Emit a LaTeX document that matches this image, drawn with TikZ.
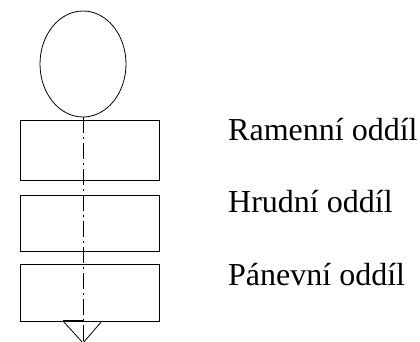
\documentclass[tikz,border=0pt]{standalone}
\usepackage{fontspec}
\setmainfont{Liberation Serif}
\usetikzlibrary{shapes.geometric}
\begin{document}
\begin{tikzpicture}[x=1pt,y=-1pt,
  part/.style={draw,line width=0.8pt,inner sep=0pt},
  segment/.style={part,rectangle,minimum width=139pt},
  label/.style={anchor=base west,inner sep=0pt,font=\fontsize{32}{34}\selectfont},
  axis/.style={line width=0.7pt,dash pattern=on 16pt off 4pt on 2pt off 4pt}]
\useasboundingbox (0,0) rectangle (420,342);
% head
\node[part,ellipse,minimum width=86pt,minimum height=106pt] (head) at (83,64) {};
% body segments
\node[segment,minimum height=60pt] (shoulder) at (89.5,150) {};
\node[segment,minimum height=56pt] (chest) at (89.5,223) {};
\node[segment,minimum height=57pt] (pelvis) at (89.5,292.5) {};
% tail cone below the last segment
\coordinate (tl) at (63,321);
\coordinate (tr) at (102,321);
\coordinate (tip) at (83,343);
\draw[line width=0.8pt] (tl) -- (tip) -- (tr);
\draw[line width=1.6pt] (tl) -- (83,321);
% body axis
\draw[axis] (head.south) -- (tip);
% segment names
\node[label] (t1) at (228,140) {Ramenní oddíl};
\node[label] (t2) at (228,212) {Hrudní oddíl};
\node[label] (t3) at (228,285) {Pánevní oddíl};
\end{tikzpicture}
\end{document}
